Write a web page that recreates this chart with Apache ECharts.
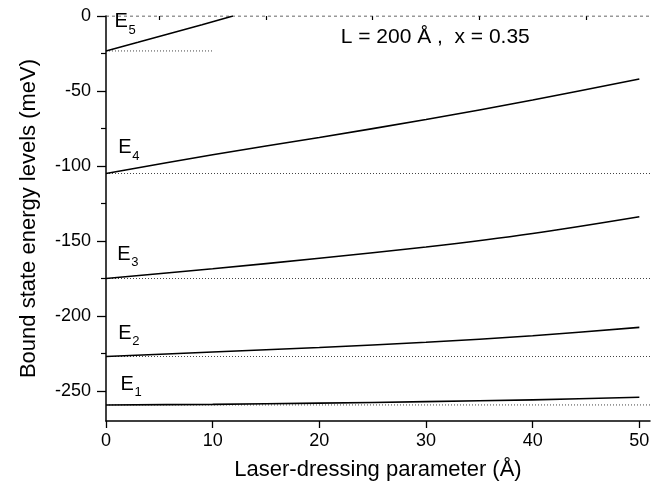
<!DOCTYPE html>
<html>
<head>
<meta charset="UTF-8">
<title>Bound state energy levels</title>
<script src="https://cdn.jsdelivr.net/npm/echarts@6/dist/echarts.min.js"></script>
<style>
    html, body { margin: 0; padding: 0; background: #fff; }
    #main { width: 669px; height: 489px; }
</style>
</head>
<body>
<div id="main"></div>
<script type="text/javascript">

    // laser-dressing parameter (Å) where the levels were read
    var xVals = [0, 10, 20, 30, 40, 50];
    var e1 = [-259.3, -258.9, -258.1, -257.1, -255.9, -254.2];
    var e2 = [-227.0, -224.0, -221.0, -217.5, -213.2, -207.6];
    var e3 = [-175.0, -168.5, -161.5, -154.0, -145.0, -133.8];
    var e4 = [-105.0, -92.5, -81.0, -69.0, -56.0, -42.0];
    // E5 leaves the well near 12 Å
    var xE5 = [0, 3, 6, 9, 11.9];
    var e5 = [-23.3, -17.5, -11.6, -5.8, 0];

    // levels without the laser field (dotted lines) and where they stop
    var levels = [-259.3, -227.0, -175.0, -105.0, -23.3];
    var levelEnd = [51, 51, 51, 51, 10];

    var xTicks = [0, 10, 20, 30, 40, 50];
    var xMinor = [5, 15, 25, 35, 45];
    var yTicks = [0, -50, -100, -150, -200, -250];
    var yMinor = [-25, -75, -125, -175, -225];

    var levelNames = ['1', '2', '3', '4', '5'];
    // top-left of each "E" label, in data units
    var labelX = [1.35, 1.15, 1.05, 1.15, 0.8];
    var labelY = [-238.7, -204.7, -152, -81.3, 2.7];

    function pairs(xs, ys) {
        var out = [];
        for (var i = 0; i < xs.length; i++) out.push([xs[i], ys[i]]);
        return out;
    }

    var font = 'Liberation Sans, Arial, sans-serif';
    var dom = document.getElementById('main');
    var myChart = echarts.init(dom);

    var series = [];
    // zero line (dashed)
    series.push({
        type: 'line', xAxisIndex: 0, yAxisIndex: 0, silent: true,
        showSymbol: false,
        data: [[0, 0], [51, 0]],
        lineStyle: { color: '#333', width: 1, type: [3, 3] }
    });
    for (var i = 0; i < levels.length; i++) {
        series.push({
            type: 'line', xAxisIndex: 0, yAxisIndex: 0, silent: true,
            showSymbol: false,
            data: [[0, levels[i]], [levelEnd[i], levels[i]]],
            lineStyle: { color: '#444', width: 1, type: [1, 2] }
        });
    }
    var curves = [e1, e2, e3, e4];
    for (var j = 0; j < curves.length; j++) {
        series.push({
            type: 'line', xAxisIndex: 0, yAxisIndex: 0,
            showSymbol: false, smooth: 0.3,
            data: pairs(xVals, curves[j]),
            lineStyle: { color: '#000', width: 1.6 }
        });
    }
    series.push({
        type: 'line', xAxisIndex: 0, yAxisIndex: 0,
        showSymbol: false,
        data: pairs(xE5, e5),
        lineStyle: { color: '#000', width: 1.6 }
    });

    var option = {
        backgroundColor: '#fff',
        animation: false,
        textStyle: { fontFamily: font, color: '#000' },
        grid: { left: 106, right: 19, top: 16, bottom: 68, containLabel: false },
        xAxis: [{
            type: 'value', min: 0, max: 51,
            name: 'Laser-dressing parameter (Å)',
            nameLocation: 'middle', nameGap: 38,
            nameTextStyle: { fontSize: 22, color: '#000', fontFamily: font },
            axisLine: { show: true, onZero: false, lineStyle: { color: '#000', width: 1.5 } },
            axisTick: { show: true, inside: false, length: 7, customValues: xTicks, lineStyle: { color: '#000', width: 1.3 } },
            axisLabel: { show: true, customValues: xTicks, margin: 11, fontSize: 18, color: '#000', fontFamily: font },
            splitLine: { show: false }
        }, {
            type: 'value', min: 0, max: 51, position: 'bottom',
            axisLine: { show: false },
            axisTick: { show: true, inside: false, length: 4, customValues: xMinor, lineStyle: { color: '#000', width: 1.2 } },
            axisLabel: { show: false },
            splitLine: { show: false }
        }],
        yAxis: [{
            type: 'value', min: -270, max: 0,
            name: 'Bound state energy levels (meV)',
            nameLocation: 'middle', nameGap: 66, nameRotate: 90,
            nameTextStyle: { fontSize: 22, color: '#000', fontFamily: font },
            axisLine: { show: true, onZero: false, lineStyle: { color: '#000', width: 1.5 } },
            axisTick: { show: true, inside: false, length: 9, customValues: yTicks, lineStyle: { color: '#000', width: 1.3 } },
            axisLabel: { show: true, customValues: yTicks, margin: 15, fontSize: 18, color: '#000', fontFamily: font },
            splitLine: { show: false }
        }, {
            type: 'value', min: -270, max: 0, position: 'left',
            axisLine: { show: false },
            axisTick: { show: true, inside: false, length: 5, customValues: yMinor, lineStyle: { color: '#000', width: 1.2 } },
            axisLabel: { show: false },
            splitLine: { show: false }
        }],
        series: series
    };

    if (option && typeof option === 'object') {
        myChart.setOption(option, true);
    }

    // E_n labels and the parameter note
    var elements = [];
    for (var k = 0; k < levelNames.length; k++) {
        var p = myChart.convertToPixel({ xAxisIndex: 0, yAxisIndex: 0 }, [labelX[k], labelY[k]]);
        elements.push({
            type: 'text', left: p[0], top: p[1],
            style: { text: 'E', fontSize: 20, fontFamily: font, fill: '#000' }
        });
        elements.push({
            type: 'text', left: p[0] + 14, top: p[1] + 12,
            style: { text: levelNames[k], fontSize: 13, fontFamily: font, fill: '#000' }
        });
    }
    var note = myChart.convertToPixel({ xAxisIndex: 0, yAxisIndex: 0 }, [22, -7]);
    elements.push({
        type: 'text', left: note[0], top: note[1],
        style: { text: 'L = 200 Å ,  x = 0.35', fontSize: 21, fontFamily: font, fill: '#000' }
    });
    myChart.setOption({ graphic: elements });
</script>
</body>
</html>
